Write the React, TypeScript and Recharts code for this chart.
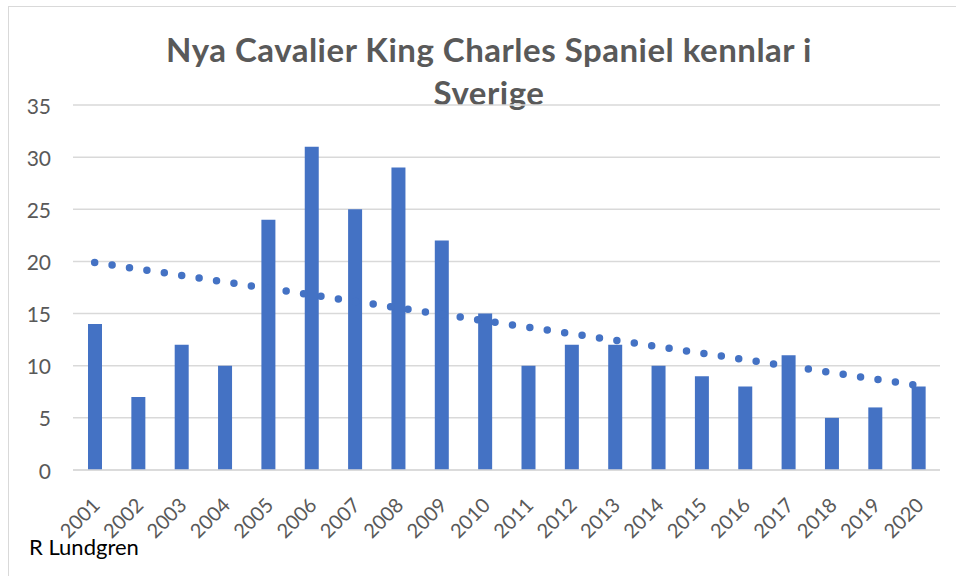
import React from 'react';
import { ComposedChart, Bar, Line, XAxis, YAxis, CartesianGrid } from 'recharts';

const years = ['2001', '2002', '2003', '2004', '2005', '2006', '2007', '2008', '2009', '2010',
  '2011', '2012', '2013', '2014', '2015', '2016', '2017', '2018', '2019', '2020'];
const kennels = [14, 7, 12, 10, 24, 31, 25, 29, 22, 15, 10, 12, 12, 10, 9, 8, 11, 5, 6, 8];
// trendline end points (first and last year)
const trendEnds = [19.9, 8.1];
const yTicks = [0, 5, 10, 15, 20, 25, 30, 35];

const data = years.map((year, i) => ({
  year,
  kennels: kennels[i],
  trend: i === 0 ? trendEnds[0] : i === years.length - 1 ? trendEnds[1] : null,
}));

const FONT = 'Lato, "Open Sans", sans-serif';
const GREY = '#595959';
const BLUE = '#4472c4';

const YTick = ({ x, y, payload }: any) => (
  <text x={x - 14} y={y} textAnchor="end" dominantBaseline="central" fill={GREY} fontSize={21} fontFamily={FONT}>
    {payload.value}
  </text>
);

const XTick = ({ x, y, payload }: any) => (
  <g transform={`translate(${x + 1},${y + 23})`}>
    <text textAnchor="end" dominantBaseline="central" transform="rotate(-45)" fill={GREY} fontSize={20} fontFamily={FONT}>
      {payload.value}
    </text>
  </g>
);

export default function App() {
  return (
    <div style={{ position: 'absolute', left: 0, top: 0, width: 956, height: 576, overflow: 'hidden', background: '#fff' }}>
      <div style={{ position: 'absolute', left: 8, top: 6, width: 980, height: 600, border: '1px solid #d9d9d9' }} />
      <div
        style={{
          position: 'absolute', left: 0, width: 978, top: 28, textAlign: 'center',
          fontFamily: FONT, fontWeight: 700, fontSize: 33, letterSpacing: 0.5, lineHeight: '43px', color: GREY,
        }}
      >
        Nya Cavalier King Charles Spaniel kennlar i
        <br />
        Sverige
      </div>
      <div style={{ position: 'absolute', left: 29, top: 533, fontFamily: FONT, fontSize: 22, color: '#000' }}>
        R Lundgren
      </div>
      <div style={{ position: 'absolute', left: 0, top: 0 }}>
        <ComposedChart width={956} height={576} data={data} margin={{ top: 105, right: 16, left: 0, bottom: 0 }}>
          <CartesianGrid vertical={false} stroke="#d9d9d9" strokeWidth={1.5} />
          <XAxis
            dataKey="year"
            height={106}
            interval={0}
            tick={<XTick />}
            tickLine={false}
            axisLine={{ stroke: '#d9d9d9', strokeWidth: 1.5 }}
          />
          <YAxis
            width={73}
            domain={[0, 35]}
            ticks={yTicks}
            tick={<YTick />}
            tickLine={false}
            axisLine={false}
          />
          <Bar dataKey="kennels" fill={BLUE} barSize={14} isAnimationActive={false} />
          <Line
            dataKey="trend"
            stroke={BLUE}
            strokeWidth={7.5}
            strokeDasharray="0 17.6"
            strokeLinecap="round"
            connectNulls
            dot={false}
            activeDot={false}
            isAnimationActive={false}
          />
        </ComposedChart>
      </div>
    </div>
  );
}
